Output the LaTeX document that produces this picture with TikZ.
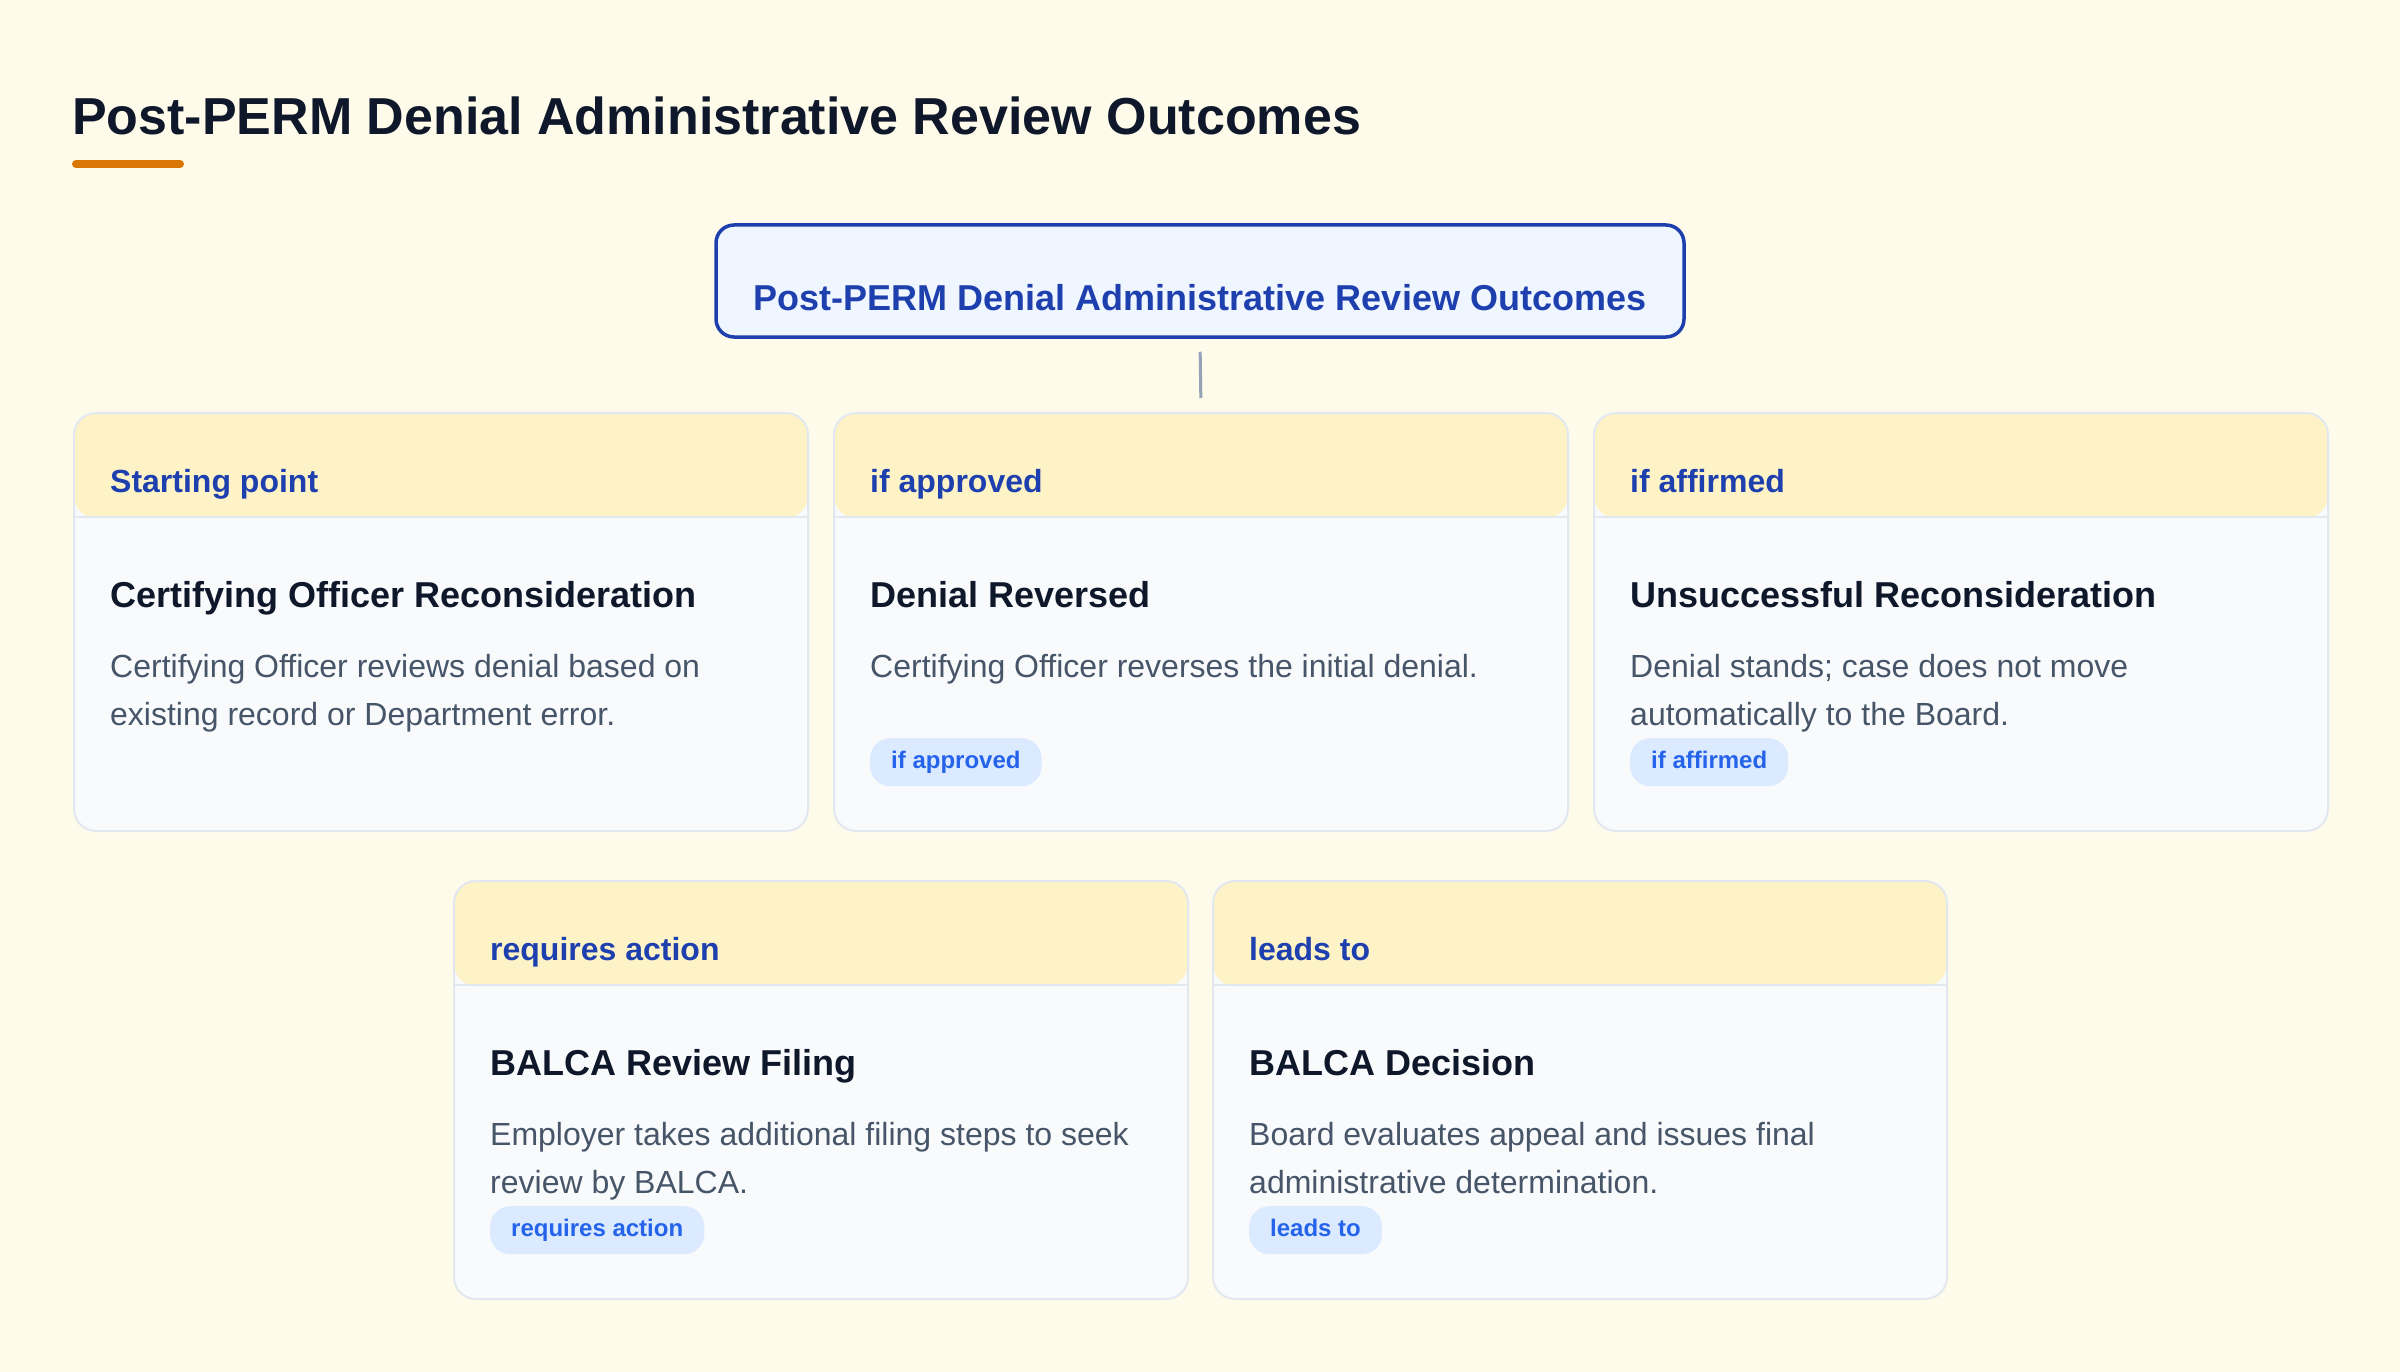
\documentclass[tikz,border=0pt]{standalone}
\usepackage{fontspec}
\setmainfont{Liberation Sans}
\definecolor{pagebg}{HTML}{FFFBEB}
\definecolor{hdrbg}{HTML}{FEF3C7}
\definecolor{cardbg}{HTML}{F8FAFC}
\definecolor{cardline}{HTML}{E2E8F0}
\definecolor{darkblue}{HTML}{1E40AF}
\definecolor{pillbg}{HTML}{DBEAFE}
\definecolor{pilltext}{HTML}{2563EB}
\definecolor{ink}{HTML}{0F172A}
\definecolor{bodyink}{HTML}{475569}
\definecolor{accent}{HTML}{D97706}
\definecolor{rootbg}{HTML}{EFF6FF}
\definecolor{conn}{HTML}{94A3B8}
\tikzset{
  cardbox/.style={draw=cardline, line width=2pt, fill=cardbg, rounded corners=22pt,
    minimum width=734pt, minimum height=418pt, inner sep=0pt, anchor=north west,
    path picture={\fill[hdrbg] (path picture bounding box.north west) rectangle ([yshift=-105pt]path picture bounding box.north east);}},
  hdrtext/.style={anchor=base west, inner sep=0pt, text=darkblue, font=\fontsize{32}{38}\selectfont\bfseries},
  cardtitle/.style={anchor=base west, inner sep=0pt, text=ink, font=\fontsize{36}{42}\selectfont\bfseries},
  bodytext/.style={anchor=base west, inner sep=0pt, text=bodyink, font=\fontsize{32}{38}\selectfont},
  pillbox/.style={anchor=north west, fill=pillbg, rounded corners=20pt, minimum height=48pt,
    inner xsep=21pt, inner ysep=0pt, text height=17pt, text depth=5pt, text=pilltext,
    font=\fontsize{24}{28}\selectfont\bfseries},
  rootbox/.style={draw=darkblue, line width=3.5pt, fill=rootbg, rounded corners=18pt,
    minimum width=968pt, minimum height=112pt, inner sep=0pt, text=darkblue,
    text height=62pt, text depth=4pt, font=\fontsize{36}{42}\selectfont\bfseries},
  connline/.style={draw=conn, line width=3pt},
}
\newcommand\mkcard[8]{%
  \node[cardbox] (#1) at (#2,#3) {};
  \draw[cardline, line width=2pt] ([yshift=-105pt]#1.north west) -- ([yshift=-105pt]#1.north east);
  \node[hdrtext] (#1-h) at (#2+37,#3+80) {#4};
  \node[cardtitle] (#1-t) at (#2+37,#3+195) {#5};
  \node[bodytext] (#1-a) at (#2+37,#3+265) {#6};
  \node[bodytext] (#1-b) at (#2+37,#3+313) {#7};
  \ifx\relax#8\relax\else
  \node[pillbox] (#1-p) at (#2+37,#3+326) {#8};
  \fi
}
\begin{document}
\begin{tikzpicture}[x=1pt,y=-1pt]
\useasboundingbox (0,0) rectangle (2400,1372);
\fill[pagebg] (0,0) rectangle (2400,1372);
\node[anchor=base west, inner sep=0pt, text=ink, font=\fontsize{52}{60}\selectfont\bfseries] (title) at (72,135) {Post-PERM Denial Administrative Review Outcomes};
\draw[accent, line width=8pt, line cap=round] (76,164) -- (180,164);
\node[rootbox] (root) at (1200,281) {Post-PERM Denial Administrative Review Outcomes};
\mkcard{c1}{73}{412}{Starting point}{Certifying Officer Reconsideration}{Certifying Officer reviews denial based on}{existing record or Department error.}{}
\mkcard{c2}{833}{412}{if approved}{Denial Reversed}{Certifying Officer reverses the initial denial.}{}{if approved}
\mkcard{c3}{1593}{412}{if affirmed}{Unsuccessful Reconsideration}{Denial stands; case does not move}{automatically to the Board.}{if affirmed}
\mkcard{c4}{453}{880}{requires action}{BALCA Review Filing}{Employer takes additional filing steps to seek}{review by BALCA.}{requires action}
\mkcard{c5}{1212}{880}{leads to}{BALCA Decision}{Board evaluates appeal and issues final}{administrative determination.}{leads to}
\draw[connline, shorten <=13pt, shorten >=14pt] (root.south) -- (c2.north);
\end{tikzpicture}
\end{document}
